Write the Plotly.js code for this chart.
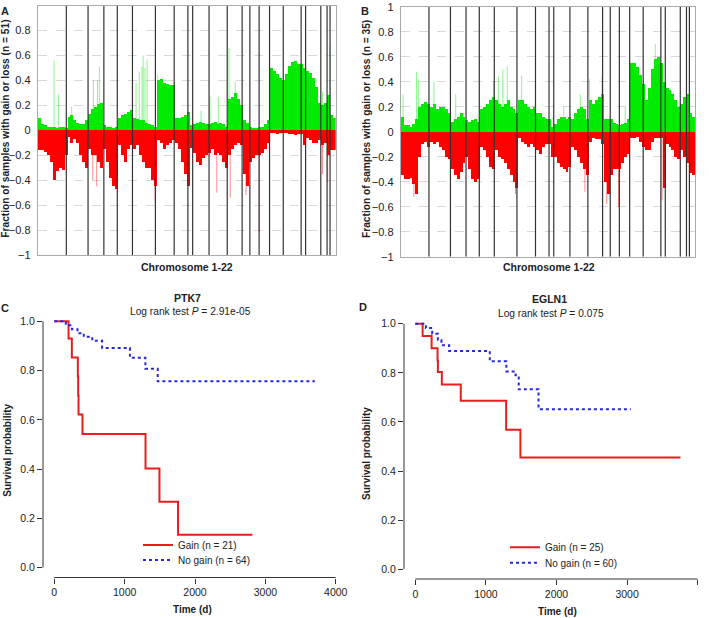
<!DOCTYPE html>
<html>
<head>
<meta charset="utf-8">
<script src="https://cdn.plot.ly/plotly-3.0.1.min.js"></script>
<style>html,body{margin:0;padding:0;background:#fff;}#chart{width:709px;height:618px;}</style>
</head>
<body>
<div id="chart"></div>
<script>
// ---------- DATA ----------
// Chromosome boundaries on a genome index axis (0..1000), chromosomes 1-22
const chromBoundaries = [96,169,222,267,318,395,458,504,520,575,636,686,712,743,778,824,884,899,950,971,981];
const genomeLength = 1000;
const binWidth = 10;

// Panel A (n = 51): fraction with gain / loss per genome bin
const gainA = [0.10,0.05,0.04,0.03,0.03,0.03,0.02,0.03,0.03,0.02,
  0.11,0.12,0.08,0.06,0.05,0.05,0.08,
  0.13,0.17,0.19,0.21,0.22,
  0.04,0.03,0.03,0.02,0.03,
  0.10,0.12,0.13,0.15,0.16,
  0.10,0.09,0.08,0.08,0.06,0.05,0.04,0.03,
  0.40,0.41,0.38,0.37,0.36,0.36,
  0.10,0.10,0.11,0.12,0.15,
  0.04,
  0.05,0.06,0.07,0.06,0.05,0.05,
  0.06,0.07,0.05,0.06,0.05,0.03,
  0.25,0.27,0.30,0.25,0.20,
  0.08,0.06,
  0.03,0.02,0.02,0.03,
  0.03,0.05,0.08,
  0.50,0.48,0.45,0.42,0.40,
  0.45,0.52,0.55,0.56,0.53,0.53,
  0.50,
  0.48,0.46,0.42,0.35,0.22,
  0.20,0.22,
  0.28,
  0.12,0.10];
const lossA = [-0.16,-0.16,-0.17,-0.20,-0.25,-0.40,-0.33,-0.30,-0.32,-0.20,
  -0.05,-0.10,-0.07,-0.10,-0.20,-0.25,-0.30,
  -0.15,-0.20,-0.20,-0.25,-0.30,
  -0.15,-0.25,-0.38,-0.45,-0.47,
  -0.12,-0.20,-0.25,-0.15,-0.12,
  -0.15,-0.12,-0.20,-0.25,-0.30,-0.30,-0.40,-0.45,
  -0.08,-0.10,-0.15,-0.12,-0.10,-0.08,
  -0.10,-0.15,-0.25,-0.35,-0.45,
  -0.14,
  -0.18,-0.25,-0.28,-0.22,-0.20,-0.18,
  -0.15,-0.20,-0.18,-0.20,-0.25,-0.30,
  -0.20,-0.15,-0.12,-0.10,-0.12,
  -0.35,-0.45,
  -0.25,-0.22,-0.20,-0.20,
  -0.18,-0.15,-0.10,
  -0.02,-0.02,-0.03,-0.02,-0.02,
  -0.02,-0.03,-0.03,-0.04,-0.03,-0.03,
  -0.12,
  -0.06,-0.08,-0.10,-0.10,-0.08,
  -0.12,-0.10,
  -0.20,
  -0.16,-0.16];
const spikeGainAPos = [55,70,114,187,201,207,330,341,350,354,360,367,403,548,578,606,642,663,956,981];
const spikeGainAVal = [0.56,0.29,0.19,0.40,0.40,0.51,0.38,0.47,0.51,0.60,0.50,0.57,0.45,0.16,0.27,0.27,0.66,0.39,0.31,0.68];
const spikeLossAPos = [185,198,394,601,646,699,743,956,973];
const spikeLossAVal = [-0.40,-0.45,-0.57,-0.50,-0.54,-0.52,-0.82,-0.35,-0.42];

// Panel B (n = 35)
const gainB = [0.12,0.05,0.05,0.04,0.06,0.10,0.20,0.22,0.24,0.22,
  0.20,0.22,0.18,0.20,0.20,0.18,0.15,
  0.08,0.10,0.12,0.15,0.12,
  0.09,0.08,0.09,0.10,0.08,
  0.18,0.20,0.22,0.25,0.28,
  0.25,0.22,0.20,0.22,0.25,0.20,0.18,0.15,
  0.25,0.25,0.22,0.20,0.18,0.20,
  0.15,0.15,0.12,0.10,0.10,
  0.04,
  0.06,0.10,0.12,0.12,0.10,0.12,
  0.10,0.15,0.18,0.20,0.18,0.10,
  0.25,0.22,0.25,0.28,0.30,
  0.10,0.10,
  0.10,0.07,0.06,0.05,
  0.06,0.07,0.10,
  0.55,0.55,0.52,0.45,0.38,
  0.25,0.35,0.50,0.58,0.60,0.55,
  0.40,
  0.35,0.33,0.30,0.25,0.20,
  0.22,0.28,
  0.30,
  0.15,0.12];
const lossB = [-0.35,-0.38,-0.38,-0.37,-0.42,-0.50,-0.20,-0.10,-0.08,-0.12,
  -0.08,-0.10,-0.08,-0.12,-0.15,-0.20,-0.22,
  -0.30,-0.35,-0.38,-0.32,-0.25,
  -0.20,-0.30,-0.38,-0.40,-0.38,
  -0.12,-0.15,-0.20,-0.28,-0.30,
  -0.15,-0.20,-0.22,-0.25,-0.30,-0.35,-0.40,-0.45,
  -0.05,-0.08,-0.10,-0.12,-0.10,-0.12,
  -0.15,-0.18,-0.12,-0.10,-0.10,
  -0.20,
  -0.20,-0.25,-0.28,-0.30,-0.32,-0.28,
  -0.12,-0.15,-0.20,-0.25,-0.30,-0.35,
  -0.08,-0.05,-0.06,-0.06,-0.10,
  -0.40,-0.50,
  -0.35,-0.30,-0.30,-0.30,
  -0.25,-0.20,-0.18,
  -0.05,-0.05,-0.04,-0.08,-0.12,
  -0.15,-0.15,-0.08,-0.05,-0.05,-0.05,
  -0.45,
  -0.10,-0.12,-0.15,-0.20,-0.22,
  -0.15,-0.20,
  -0.25,
  -0.33,-0.35];
const spikeGainBPos = [8,54,60,113,187,315,332,347,362,411,554,610,642,684,763,865,981];
const spikeGainBVal = [0.30,0.48,0.42,0.40,0.30,0.40,0.45,0.50,0.52,0.45,0.20,0.30,0.42,0.45,0.20,0.70,0.68];
const spikeLossBPos = [45,390,626,700,740,888];
const spikeLossBVal = [-0.52,-0.50,-0.48,-0.58,-0.60,-0.55];

// Panel C: PTK7 Kaplan-Meier (step points)
const ptk7GainTime   = [0,203,250,335,340,345,401,1297,1495,1759,2816];
const ptk7GainSurv   = [1,0.930,0.853,0.777,0.699,0.622,0.543,0.403,0.268,0.134,0.134];
const ptk7NoGainTime = [0,165,250,330,420,540,680,1075,1295,1470,3703];
const ptk7NoGainSurv = [1,0.984,0.968,0.952,0.937,0.921,0.892,0.852,0.808,0.757,0.757];

// Panel D: EGLN1 Kaplan-Meier
const eglnGainTime   = [0,104,231,315,320,376,644,1287,1489,3756];
const eglnGainSurv   = [1,0.950,0.900,0.851,0.804,0.753,0.686,0.568,0.455,0.455];
const eglnNoGainTime = [0,150,240,320,370,480,1055,1290,1420,1465,1746,3052];
const eglnNoGainSurv = [1,0.983,0.960,0.935,0.913,0.889,0.847,0.806,0.790,0.733,0.652,0.652];

const timeTicks = [0,1000,2000,3000,4000];
const survTicks = [0,0.2,0.4,0.6,0.8,1.0];

// ---------- BUILD ----------
const GREEN = 'rgb(0,235,0)', RED = 'rgb(255,0,0)';
const GREEN_L = 'rgba(0,235,0,0.45)', RED_L = 'rgba(255,0,0,0.45)';
const KM_RED = 'rgb(230,30,30)', KM_BLUE = 'rgb(40,40,220)';

function binCenters(arr){ return arr.map((_, i) => i * binWidth + binWidth / 2); }
function spikeSegs(pos, val){
  const x = [], y = [];
  pos.forEach((p, i) => { x.push(p, p, null); y.push(0, val[i], null); });
  return {x, y};
}
function boundarySegs(){
  const x = [], y = [];
  chromBoundaries.forEach(b => { x.push(b, b, null); y.push(-1, 1, null); });
  return {x, y};
}
function cnvTraces(gain, loss, sgPos, sgVal, slPos, slVal, xa, ya){
  const sg = spikeSegs(sgPos, sgVal), sl = spikeSegs(slPos, slVal), bd = boundarySegs();
  return [
    {type:'bar', x: binCenters(gain), y: gain, width: binWidth, marker:{color: GREEN, line:{width:0}}, xaxis: xa, yaxis: ya, showlegend:false, hoverinfo:'skip'},
    {type:'bar', x: binCenters(loss), y: loss, width: binWidth, marker:{color: RED, line:{width:0}}, xaxis: xa, yaxis: ya, showlegend:false, hoverinfo:'skip'},
    {type:'scatter', mode:'lines', x: sg.x, y: sg.y, line:{color: GREEN_L, width:1}, xaxis: xa, yaxis: ya, showlegend:false, hoverinfo:'skip', connectgaps:false},
    {type:'scatter', mode:'lines', x: sl.x, y: sl.y, line:{color: RED_L, width:1}, xaxis: xa, yaxis: ya, showlegend:false, hoverinfo:'skip', connectgaps:false},
    {type:'scatter', mode:'lines', x: bd.x, y: bd.y, line:{color:'#333', width:1.2}, xaxis: xa, yaxis: ya, showlegend:false, hoverinfo:'skip', connectgaps:false}
  ];
}

const data = [].concat(
  cnvTraces(gainA, lossA, spikeGainAPos, spikeGainAVal, spikeLossAPos, spikeLossAVal, 'x', 'y'),
  cnvTraces(gainB, lossB, spikeGainBPos, spikeGainBVal, spikeLossBPos, spikeLossBVal, 'x2', 'y2'),
  [
    {type:'scatter', mode:'lines', x: ptk7GainTime, y: ptk7GainSurv, line:{shape:'hv', color: KM_RED, width:2}, name:'Gain (n = 21)', xaxis:'x3', yaxis:'y3', legend:'legend'},
    {type:'scatter', mode:'lines', x: ptk7NoGainTime, y: ptk7NoGainSurv, line:{shape:'hv', color: KM_BLUE, width:2, dash:'dot'}, name:'No gain (n = 64)', xaxis:'x3', yaxis:'y3', legend:'legend2'},
    {type:'scatter', mode:'lines', x: eglnGainTime, y: eglnGainSurv, line:{shape:'hv', color: KM_RED, width:2}, name:'Gain (n = 25)', xaxis:'x4', yaxis:'y4', legend:'legend3'},
    {type:'scatter', mode:'lines', x: eglnNoGainTime, y: eglnNoGainSurv, line:{shape:'hv', color: KM_BLUE, width:2, dash:'dot'}, name:'No gain (n = 60)', xaxis:'x4', yaxis:'y4', legend:'legend4'}
  ]
);

const W = 709, H = 618;
const px = v => v / W, py = v => 1 - v / H;
const FONT = 'Liberation Sans, Arial, sans-serif';
const TXT = '#222';

const cnvX = (dom, anchor) => ({domain: dom, range:[0, genomeLength], showticklabels:false, ticks:'', showgrid:false, zeroline:false,
  showline:true, mirror:true, linecolor:'#aaa', linewidth:1, anchor: anchor, fixedrange:true});
const cnvY = (dom, anchor) => ({domain: dom, range:[-1, 1], dtick:0.2, tick0:0, ticks:'', showgrid:true, gridcolor:'#d8d8d8', griddash:'dash', gridwidth:1,
  zeroline:false, showline:true, mirror:true, linecolor:'#aaa', linewidth:1, anchor: anchor, tickfont:{size:11, color:TXT}, ticklabelstandoff:4});
const kmX = (dom, anchor) => ({domain: dom, range:[-160, 4160], tickvals: timeTicks, ticks:'outside', ticklen:5, tickcolor:'#333', tickwidth:1,
  showline:false, showgrid:false, zeroline:false, anchor: anchor, tickfont:{size:10.5, color:TXT}});
const kmY = (dom, anchor) => ({domain: dom, range:[-0.04, 1.04], tickvals: survTicks, tickformat:'.1f', ticks:'outside', ticklen:5, tickcolor:'#333', tickwidth:1,
  showline:false, showgrid:false, zeroline:false, anchor: anchor, tickfont:{size:10.5, color:TXT}});

const ann = (x, y, text, size, extra) => Object.assign({xref:'paper', yref:'paper', x: px(x), y: py(y), text: text, showarrow:false,
  xanchor:'center', yanchor:'middle', font:{size: size, color: TXT, family: FONT}}, extra || {});

const legendCfg = (x, y) => ({x: px(x), y: py(y), xref:'paper', yref:'paper', xanchor:'left', yanchor:'middle', bgcolor:'rgba(0,0,0,0)',
  borderwidth:0, font:{size:10, color:TXT, family: FONT}, itemwidth:30});

const axisLine = (xa, ya) => [
  {type:'line', xref: xa, yref: ya + ' domain', x0: timeTicks[0], x1: timeTicks[timeTicks.length-1], y0:0, y1:0, line:{color:'#333', width:1}},
  {type:'line', xref: xa + ' domain', yref: ya, x0:0, x1:0, y0: survTicks[0], y1: survTicks[survTicks.length-1], line:{color:'#333', width:1}}
];

const layout = {
  width: W, height: H, margin:{l:0, r:0, t:0, b:0}, paper_bgcolor:'#fff', plot_bgcolor:'#fff',
  font:{family: FONT, color: TXT}, barmode:'overlay', bargap:0, showlegend:true, hovermode:false,
  xaxis: cnvX([px(37.7), px(335.7)], 'y'),
  yaxis: cnvY([py(255), py(5.7)], 'x'),
  xaxis2: cnvX([px(400.7), px(695)], 'y2'),
  yaxis2: cnvY([py(256.7), py(6.7)], 'x2'),
  xaxis3: kmX([px(43), px(347)], 'y3'),
  yaxis3: kmY([py(577.5), py(311.5)], 'x3'),
  xaxis4: kmX([px(404), 1], 'y4'),
  yaxis4: kmY([py(579), py(314)], 'x4'),
  legend: legendCfg(138, 545),
  legend2: legendCfg(138, 560),
  legend3: legendCfg(505, 547.3),
  legend4: legendCfg(505, 562.7),
  shapes: [].concat(axisLine('x3','y3'), axisLine('x4','y4')),
  annotations: [
    ann(5, 11, '<b>A</b>', 11),
    ann(365, 11, '<b>B</b>', 11),
    ann(4.5, 307.5, '<b>C</b>', 11),
    ann(363, 307, '<b>D</b>', 11),
    ann(6, 128.7, '<b>Fraction of samples with gain or loss (n = 51)</b>', 10.2, {textangle:-90}),
    ann(366, 129, '<b>Fraction of samples with gain or loss (n = 35)</b>', 10.2, {textangle:-90}),
    ann(187.5, 266.7, '<b>Chromosome 1-22</b>', 10.5),
    ann(548.7, 266.7, '<b>Chromosome 1-22</b>', 10.5),
    ann(188, 298, '<b>PTK7</b>', 10.5),
    ann(190.3, 311.5, 'Log rank test <i>P</i> = 2.91e-05', 10.2),
    ann(549, 299, '<b>EGLN1</b>', 10.5),
    ann(551.3, 313.5, 'Log rank test <i>P</i> = 0.075', 10.2),
    ann(6.7, 450, '<b>Survival probability</b>', 10, {textangle:-90}),
    ann(366.7, 453.3, '<b>Survival probability</b>', 10, {textangle:-90}),
    ann(192.7, 609.3, '<b>Time (d)</b>', 10),
    ann(557.7, 611.7, '<b>Time (d)</b>', 10)
  ]
};

Plotly.newPlot('chart', data, layout, {staticPlot:true, displayModeBar:false});
</script>
</body>
</html>
